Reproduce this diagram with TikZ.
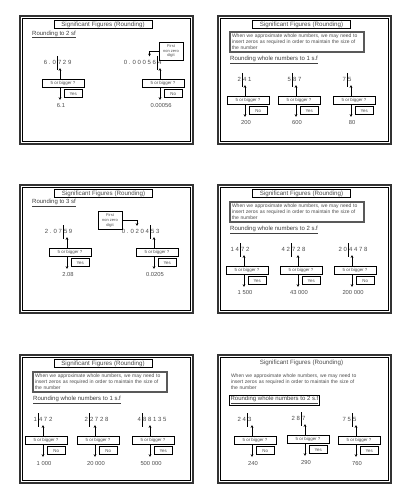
\documentclass[tikz,border=0pt]{standalone}
\usepackage{fontspec}
\setmainfont{Liberation Sans}
\usetikzlibrary{arrows.meta,calc}

\tikzset{
	marco/.style={line width=1.3pt, color=black!80},
	marcoint/.style={line width=0.6pt, color=black},
	titulo/.style={draw, line width=0.9pt, minimum width=98pt, minimum height=7.5pt, inner sep=0pt, text=black!70, font=\fontsize{6.2}{7}\selectfont},
	nota/.style={draw=black!65, line width=1.4pt, minimum width=134pt, minimum height=20pt, inner sep=1.5pt, text width=130pt, align=left, text=black!70, font=\fontsize{5}{5.8}\selectfont},
	subtitulo/.style={anchor=west, inner sep=0pt, text=black!75, font=\fontsize{6}{7}\selectfont},
	cifra/.style={inner sep=0pt, font=\fontsize{6}{7}\selectfont, text=black!70},
	caja/.style={draw, line width=0.9pt, minimum width=42pt, minimum height=7.5pt, inner sep=0pt, text=black!70, font=\fontsize{4.4}{5}\selectfont},
	resp/.style={draw, line width=0.9pt, minimum width=17.5pt, minimum height=8pt, inner sep=0pt, text=black!70, font=\fontsize{4.4}{5}\selectfont},
	primero/.style={draw, line width=0.9pt, minimum width=24pt, minimum height=18pt, inner sep=0pt, align=center, text=black!70, font=\fontsize{4}{4.6}\selectfont},
	resultado/.style={inner sep=0pt, font=\fontsize{5.8}{7}\selectfont, text=black!70},
	corte/.style={line width=0.9pt},
	flecha/.style={line width=0.9pt, -{Stealth[length=2.8pt,width=2.6pt]}},
}

% marco de una diapositiva: x, y de la esquina
\newcommand{\diapo}[2]{%
	\draw[marco] (#1,#2) rectangle (#1+173,#2+128);
	\draw[marcoint] (#1+2.5,#2+2.5) rectangle (#1+170.5,#2+125.5);
}

% nombre, corte x, flecha x, y, izquierda, derecha, resultado, respuesta
\newcommand{\redondeo}[8]{%
	\node[cifra, anchor=east] (#1-izq) at (#2-0.8,#4) {#5};
	\node[cifra, anchor=west] (#1-der) at (#2+0.8,#4) {#6};
	\coordinate (#1-arriba) at (#2,#4-6);
	\coordinate (#1-abajo) at (#2,#4+8);
	\draw[corte] (#1-arriba) -- (#1-abajo);
	\node[caja] (#1-caja) at (#3+3,#4+21.5) {5 or bigger ?};
	\node[resp, anchor=north east] (#1-resp) at ([shift={(-2,1.5)}]#1-caja.south east) {#8};
	\coordinate (#1-punta) at (#3,#4+6);
	\draw[flecha] (#1-caja.north -| #1-punta) -- (#1-punta);
	\coordinate (#1-fin) at (#3,#4+38);
	\draw[flecha] (#1-caja.south -| #1-fin) -- (#1-fin);
	\node[resultado] (#1-res) at (#3+1,#4+44) {#7};
}

\begin{document}
\begin{tikzpicture}[x=1pt,y=-1pt]
	\useasboundingbox[fill=white] (0,0) rectangle (409,500);
	%Diapositiva 1
	\diapo{20}{16}
	\node[titulo] (s1-titulo) at (103,24.5) {Significant Figures (Rounding)};
	\node[subtitulo] (s1-sub) at (32,34.5) {\underline{Rounding to 2 sf}};
	\redondeo{s1a}{57}{60}{62}{6 . 0}{7 2 9}{6.1}{Yes}
	\redondeo{s1b}{157}{160}{62}{0 . 0 0 0 5 6}{4}{0.00056}{No}
	\node[primero] (s1-primero) at (171,51) {First\\non zero\\digit};
	\coordinate (s1-cinco) at (149.5,56.5);
	\draw[flecha] (s1-primero.west) -| (s1-cinco);
	%Diapositiva 2
	\diapo{218}{16}
	\node[titulo] (s2-titulo) at (301.5,24.5) {Significant Figures (Rounding)};
	\node[nota] (s2-nota) at (297,42) {When we approximate whole numbers, we may need to\\insert zeros as required in order to maintain the size of\\the number};
	\node[subtitulo] (s2-sub) at (230,60) {\underline{Rounding whole numbers to 1 s.f}};
	\redondeo{s2a}{242}{245}{79}{2}{4 1}{200}{No}
	\redondeo{s2b}{292}{296}{79}{5}{8 7}{600}{Yes}
	\redondeo{s2c}{347}{351}{79}{7}{5}{80}{Yes}
	%Diapositiva 3
	\diapo{20}{185}
	\node[titulo] (s3-titulo) at (103.5,193.5) {Significant Figures (Rounding)};
	\node[subtitulo] (s3-sub) at (32,203) {\underline{Rounding to 3 sf}};
	\redondeo{s3a}{63}{67}{231}{2 . 0 7}{5 9}{2.08}{Yes}
	\redondeo{s3b}{150}{154}{231}{0 . 0 2 0 4}{5 3}{0.0205}{Yes}
	\node[primero] (s3-primero) at (110,220.5) {First\\non zero\\digit};
	\coordinate (s3-dos) at (137,226);
	\draw[flecha] (s3-primero.east) -| (s3-dos);
	%Diapositiva 4
	\diapo{218}{185}
	\node[titulo] (s4-titulo) at (301.5,193.5) {Significant Figures (Rounding)};
	\node[nota] (s4-nota) at (297,212) {When we approximate whole numbers, we may need to\\insert zeros as required in order to maintain the size of\\the number};
	\node[subtitulo] (s4-sub) at (230,230) {\underline{Rounding whole numbers to 2 s.f}};
	\redondeo{s4a}{240}{244}{249}{1 4}{7 2}{1 500}{Yes}
	\redondeo{s4b}{291}{298}{249}{4 2}{7 2 8}{43 000}{Yes}
	\redondeo{s4c}{348}{352}{249}{2 0}{4 4 7 8}{200 000}{No}
	%Diapositiva 5
	\diapo{20}{355}
	\node[titulo] (s5-titulo) at (103,363.5) {Significant Figures (Rounding)};
	\node[nota] (s5-nota) at (100,382) {When we approximate whole numbers, we may need to\\insert zeros as required in order to maintain the size of\\the number};
	\node[subtitulo] (s5-sub) at (33,400) {\underline{Rounding whole numbers to 1 s.f}};
	\redondeo{s5a}{38}{43}{419}{1}{4 7 2}{1 000}{No}
	\redondeo{s5b}{89}{95}{419}{2}{2 7 2 8}{20 000}{No}
	\redondeo{s5c}{142}{150}{419}{4}{8 8 1 3 5}{500 000}{Yes}
	%Diapositiva 6
	\diapo{218}{355}
	\node[titulo, draw=none] (s6-titulo) at (301.5,363) {Significant Figures (Rounding)};
	\node[nota, draw=none] (s6-nota) at (296,382) {When we approximate whole numbers, we may need to\\insert zeros as required in order to maintain the size of\\the number};
	\node[subtitulo, draw, line width=0.9pt, inner sep=1.2pt] (s6-sub) at (229,400) {\underline{Rounding whole numbers to 2 s.f}};
	\redondeo{s6a}{247}{252}{419}{2 4}{3}{240}{No}
	\redondeo{s6b}{301}{305}{418}{2 8}{7}{290}{Yes}
	\redondeo{s6c}{352}{356}{419}{7 5}{5}{760}{Yes}
\end{tikzpicture}
\end{document}
